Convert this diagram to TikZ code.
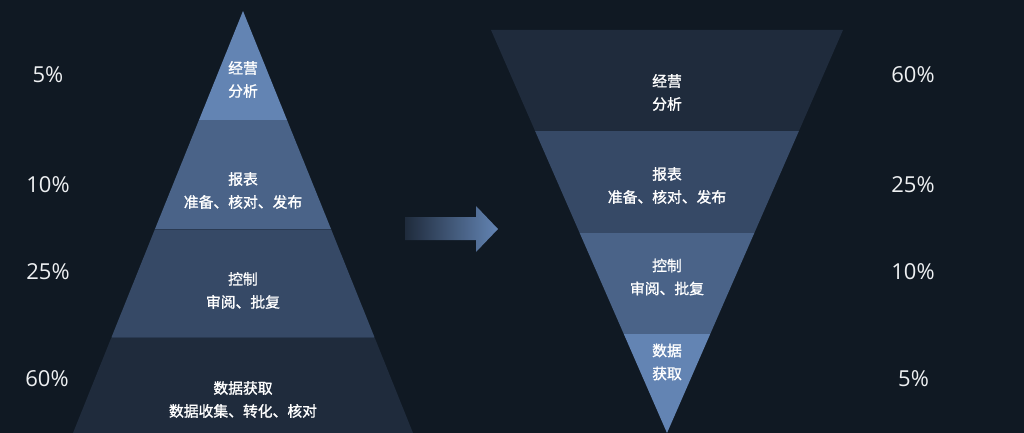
\documentclass[tikz,border=0pt]{standalone}
\usepackage{fontspec}
\setmainfont{Open Sans}
\newfontfamily\cjk[FakeBold=1.3]{Noto Sans CJK SC}
\usetikzlibrary{shapes.geometric}
\definecolor{bg}{HTML}{101923}
\definecolor{lay1}{HTML}{6384B3}
\definecolor{lay2}{HTML}{4A6388}
\definecolor{lay3}{HTML}{364966}
\definecolor{lay4}{HTML}{1F2B3C}
\definecolor{sep}{HTML}{2A3A52}
\definecolor{pct}{HTML}{EEF0F2}
\tikzset{
  cn/.style={inner sep=0pt, align=center, text=white, font=\cjk\fontsize{14.8}{23}\selectfont},
  pc/.style={inner sep=0pt, text=pct, font=\fontsize{22}{24}\selectfont},
  sepline/.style={draw=sep, line width=1pt}
}
\begin{document}
\begin{tikzpicture}[x=1pt,y=-1pt]
\useasboundingbox (0,0) rectangle (1024,433);
\fill[bg] (0,0) rectangle (1024,433);
\begin{scope}
\clip (0,0) rectangle (1024,433);
% left pyramid
\fill[lay1] (243,11) -- (287,120) -- (199,120) -- cycle;
\fill[lay2] (199,120) -- (287,120) -- (331,229) -- (155,229) -- cycle;
\fill[lay3] (155,229) -- (331,229) -- (374.4,337) -- (111.6,337) -- cycle;
\fill[lay4] (111.6,337) -- (374.4,337) -- (413,433) -- (73,433) -- cycle;
\draw[sepline] (155.4,229) -- (330.6,229);
\draw[sepline] (112,337) -- (374,337);
% right inverted triangle
\fill[lay4] (491,30) -- (843,30) -- (798.9,131) -- (535.1,131) -- cycle;
\fill[lay3] (535.1,131) -- (798.9,131) -- (754.3,233) -- (579.7,233) -- cycle;
\fill[lay2] (579.7,233) -- (754.3,233) -- (710.2,334) -- (623.8,334) -- cycle;
\fill[lay1] (623.8,334) -- (710.2,334) -- (667,433) -- cycle;
\end{scope}
% arrow
\shade[left color=lay4, right color=lay1] (405,217) -- (476,217) -- (476,206) -- (498,229) -- (476,252) -- (476,240) -- (405,240) -- cycle;
% left texts
\node[cn] (l1) at (243,79.5) {经营\\分析};
\node[cn] (l2) at (243,190.5) {报表\\准备、核对、发布};
\node[cn] (l3) at (243,290.5) {控制\\审阅、批复};
\node[cn] (l4) at (243,399.5) {数据获取\\数据收集、转化、核对};
% right texts
\node[cn] (r1) at (667,92.5) {经营\\分析};
\node[cn] (r2) at (667,185.5) {报表\\准备、核对、发布};
\node[cn] (r3) at (667,277) {控制\\审阅、批复};
\node[cn] (r4) at (667,362) {数据\\获取};
% percentages
\node[pc] (pl1) at (48,75) {5\%};
\node[pc] (pl2) at (48,185) {10\%};
\node[pc] (pl3) at (48,271.5) {25\%};
\node[pc] (pl4) at (47,379) {60\%};
\node[pc] (pr1) at (913,75) {60\%};
\node[pc] (pr2) at (913,185) {25\%};
\node[pc] (pr3) at (913,271.5) {10\%};
\node[pc] (pr4) at (913.5,378.5) {5\%};
\end{tikzpicture}
\end{document}
